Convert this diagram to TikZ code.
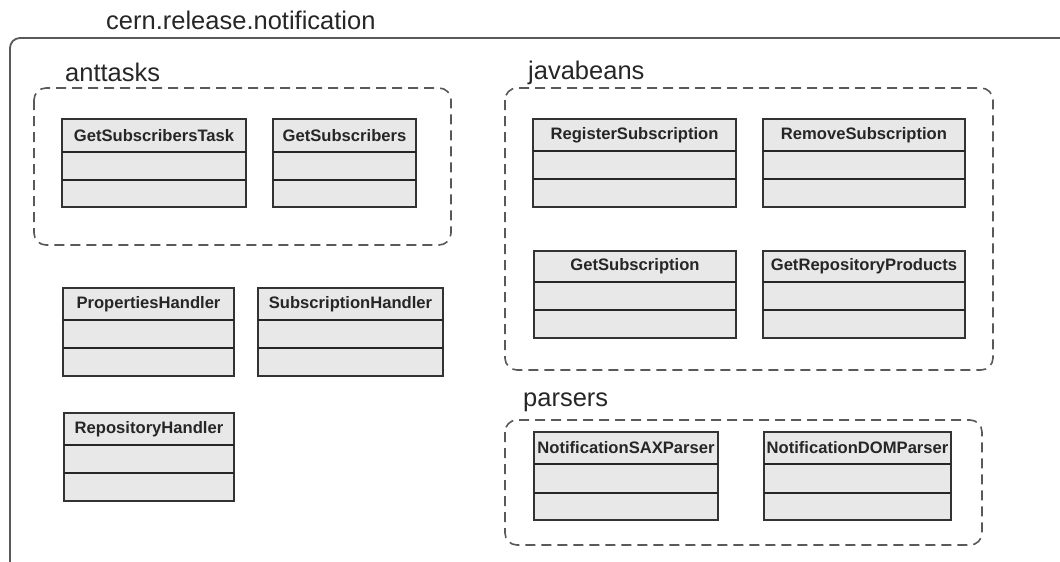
\documentclass[tikz,border=0pt]{standalone}
\usepackage{fontspec}
\setmainfont{Liberation Sans}
\begin{document}
\begin{tikzpicture}[x=1pt,y=-1pt,
  frame/.style={draw=black!65,line width=1.8pt,rounded corners=10pt},
  pkgbox/.style={draw=black!65,line width=1.6pt,rounded corners=12pt,dash pattern=on 10pt off 6pt},
  pkglabel/.style={anchor=base west,inner sep=0pt,font=\fontsize{25.5}{30}\selectfont,text=black!85},
  clsbox/.style={draw=black!80,fill=black!9,line width=1.6pt},
  clsline/.style={draw=black!85,line width=1.4pt},
  clstitle/.style={inner sep=0pt,font=\bfseries\fontsize{16.6}{20}\selectfont,text=black!85}]
\useasboundingbox (0,0) rectangle (1060,562);

% UML class box: name, x1, y1, x2, y2, first divider, second divider
\newcommand\umlcls[7]{%
  \draw[clsbox] (#2,#3) rectangle (#4,#5);
  \draw[clsline] (#2,#6) -- (#4,#6);
  \draw[clsline] (#2,#7) -- (#4,#7);
  \node[clstitle] (#1) at ({(#2+#4)/2},{(#3+#6)/2}) {#1};
}

% outer package
\draw[frame] (10,570) -- (10,38) -- (1070,38);
\node[pkglabel] (root) at (106,29) {cern.release.notification};

% anttasks
\node[pkglabel] (anttasks) at (65,81) {anttasks};
\draw[pkgbox] (34,88) rectangle (451,245);
\umlcls{GetSubscribersTask}{62}{119}{246}{207}{152}{180}
\umlcls{GetSubscribers}{273}{119}{416}{207}{152}{180}

% top-level classes
\umlcls{PropertiesHandler}{63}{288}{234}{376}{320}{348}
\umlcls{SubscriptionHandler}{258}{288}{443}{376}{320}{348}
\umlcls{RepositoryHandler}{64}{413}{234}{501}{445}{473}

% javabeans
\node[pkglabel] (javabeans) at (528,79) {javabeans};
\draw[pkgbox] (505,88) rectangle (993,370);
\umlcls{RegisterSubscription}{533}{119}{736}{207}{151}{179}
\umlcls{RemoveSubscription}{763}{119}{965}{207}{151}{179}
\umlcls{GetSubscription}{534}{251}{736}{338}{282}{310}
\umlcls{GetRepositoryProducts}{763}{251}{965}{338}{282}{310}

% parsers
\node[pkglabel] (parsers) at (523,406) {parsers};
\draw[pkgbox] (505,420) rectangle (982,545);
\umlcls{NotificationSAXParser}{534}{432}{718}{520}{464}{493}
\umlcls{NotificationDOMParser}{764}{432}{951}{520}{464}{493}
\end{tikzpicture}
\end{document}
